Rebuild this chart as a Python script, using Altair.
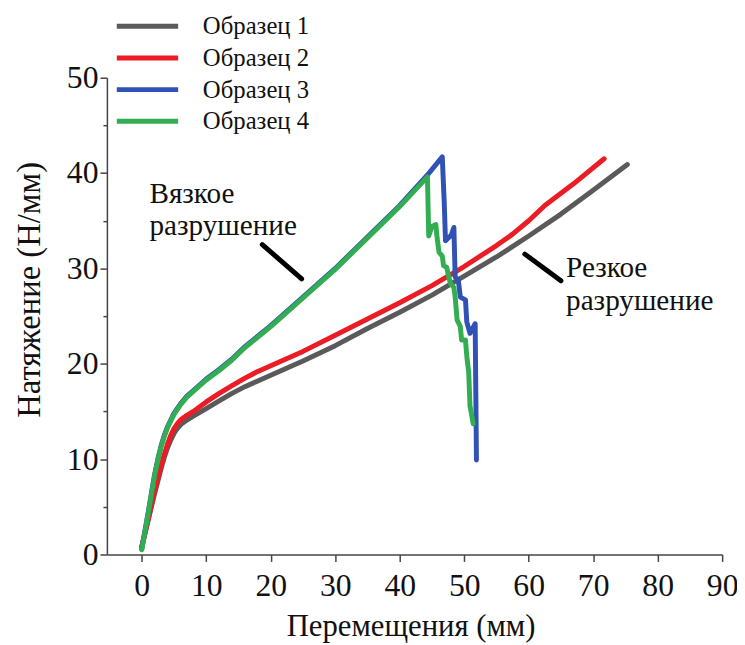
import altair as alt
import pandas as pd

# ---- data ----
s1_x = [0, 0.5, 1, 1.5, 2, 2.5, 3, 3.5, 4, 4.5, 5, 5.5, 6, 7, 8, 10, 12, 14, 16, 18, 20, 25, 30, 35, 40, 45, 50, 55, 60, 65, 70, 75.3]
s1_y = [0.8, 2.2, 3.6, 5.0, 6.4, 7.7, 9.0, 10.2, 11.2, 12.0, 12.7, 13.2, 13.6, 14.1, 14.5, 15.3, 16.1, 16.9, 17.6, 18.2, 18.8, 20.3, 21.9, 23.7, 25.4, 27.2, 29.2, 31.2, 33.4, 35.7, 38.2, 40.9]

s2_x = [0, 0.5, 1, 1.5, 2, 2.5, 3, 3.5, 4, 4.5, 5, 5.5, 6, 7, 8, 10, 12, 14, 16, 18, 20, 25, 30, 35, 40, 45, 50, 55, 57.5, 60, 62.5, 67, 71.7]
s2_y = [0.8, 2.2, 3.7, 5.2, 6.7, 8.0, 9.3, 10.5, 11.6, 12.5, 13.2, 13.7, 14.1, 14.6, 15.0, 16.0, 16.9, 17.7, 18.5, 19.2, 19.8, 21.3, 23.0, 24.7, 26.4, 28.2, 30.2, 32.4, 33.6, 35.0, 36.6, 38.9, 41.5]

s3_x = [0, 0.5, 1, 1.5, 2, 2.5, 3, 3.5, 4, 4.5, 5, 6, 7, 8, 10, 12, 14, 16, 18, 20, 25, 30, 35, 40, 44.3, 46.6,
        46.9, 47.1, 48.0, 48.4, 48.6, 49.1, 49.4, 50.2, 50.4, 50.9, 51.7, 51.9]
s3_y = [0.6, 2.5, 4.4, 6.4, 8.4, 10.0, 11.4, 12.5, 13.4, 14.1, 14.8, 15.8, 16.6, 17.2, 18.4, 19.4, 20.5, 21.8, 22.9, 24.0, 27.0, 30.0, 33.3, 36.6, 39.8, 41.7,
        37.0, 32.9, 33.5, 34.3, 29.1, 28.7, 27.0, 26.7, 24.4, 23.2, 24.2, 9.9]

s4_x = [0, 0.5, 1, 1.5, 2, 2.5, 3, 3.5, 4, 4.5, 5, 6, 7, 8, 10, 12, 14, 16, 18, 20, 25, 30, 35, 40, 44.3,
        44.5, 45.0, 45.6, 45.8, 46.1, 46.6, 46.8, 47.3, 47.6, 47.9, 48.4, 48.6, 48.9, 49.4, 49.6, 50.2, 50.4, 50.7, 50.9, 51.4]
s4_y = [0.5, 2.4, 4.3, 6.3, 8.3, 9.9, 11.3, 12.4, 13.3, 14.0, 14.7, 15.7, 16.5, 17.1, 18.3, 19.3, 20.4, 21.7, 22.8, 23.9, 26.9, 29.9, 33.2, 36.5, 39.6,
        33.4, 34.4, 34.6, 33.2, 31.7, 31.3, 30.3, 30.1, 29.1, 28.4, 28.0, 27.0, 24.6, 23.9, 22.5, 22.5, 20.8, 19.1, 15.6, 13.7]

series_names = ["Образец 1", "Образец 2", "Образец 3", "Образец 4"]
series_colors = ["#5a5a5a", "#ec1c24", "#2f52b4", "#33ad52"]

x_ticks = list(range(0, 95, 5))
y_ticks = list(range(0, 55, 5))

# annotation text (two-line labels) and leader lines (data coordinates)
ann_text = ["Вязкое\nразрушение", "Резкое\nразрушение"]
ann_tx = [1.2, 65.8]
ann_ty = [36.9, 29.1]
lead_x1 = [18.7, 59.4]
lead_y1 = [32.5, 31.5]
lead_x2 = [24.8, 65.0]
lead_y2 = [28.9, 28.7]

FONT = "Liberation Serif, Times New Roman, serif"

rows = []
for name, xs, ys in zip(series_names, [s1_x, s2_x, s3_x, s4_x], [s1_y, s2_y, s3_y, s4_y]):
    for i, (xv, yv) in enumerate(zip(xs, ys)):
        rows.append({"series": name, "x": xv, "y": yv, "i": i})
df = pd.DataFrame(rows)

color_scale = alt.Scale(domain=series_names, range=series_colors)
x_scale = alt.Scale(domain=[-5.4, 90], nice=False, zero=False)
y_scale = alt.Scale(domain=[0, 50], nice=False)

tick_cond = {"condition": {"test": "datum.value % 10 === 0", "value": 7}, "value": 4}

x_axis = alt.Axis(
    title="Перемещения (мм)", values=x_ticks, grid=False,
    labelExpr="datum.value % 10 === 0 ? datum.label : ''",
    tickSize=tick_cond, labelPadding=9, labelFlush=False, labelOverlap=False,
    labelFontSize=32,
    titleX=307, titleY=73, titleBaseline="middle", titleFontSize=31,
)
y_axis = alt.Axis(
    title="Натяжение (Н/мм)", values=y_ticks, grid=False,
    labelExpr="datum.value % 10 === 0 ? datum.label : ''",
    tickSize=tick_cond, labelPadding=2, labelFlush=False, labelOverlap=False,
    labelFontSize=32,
    titleX=-78, titleY=214, titleBaseline="middle", titleAngle=-90, titleFontSize=33,
)

lines = alt.Chart(df).mark_line(strokeWidth=5, strokeJoin="round", strokeCap="round").encode(
    x=alt.X("x:Q", scale=x_scale, axis=x_axis),
    y=alt.Y("y:Q", scale=y_scale, axis=y_axis),
    color=alt.Color("series:N", scale=color_scale, legend=None),
    detail="series:N",
    order="i:Q",
)

lead_df = pd.DataFrame({"x1": lead_x1, "y1": lead_y1, "x2": lead_x2, "y2": lead_y2})
leaders = alt.Chart(lead_df).mark_rule(color="black", strokeWidth=5, strokeCap="round").encode(
    x=alt.X("x1:Q", scale=x_scale), y=alt.Y("y1:Q", scale=y_scale),
    x2="x2:Q", y2="y2:Q",
)

ann_df = pd.DataFrame({"t": ann_text, "x": ann_tx, "y": ann_ty})
ann = alt.Chart(ann_df).mark_text(
    font=FONT, fontSize=29.5, align="left", baseline="alphabetic", color="#111",
    lineBreak="\n", lineHeight=33,
).encode(
    x=alt.X("x:Q", scale=x_scale), y=alt.Y("y:Q", scale=y_scale), text="t:N"
)

# manual legend (pixel positions relative to the plot area)
leg_df = pd.DataFrame({
    "series": series_names,
    "ly": [-52, -20, 12, 44],
    "lx1": [10, 10, 10, 10],
    "lx2": [72, 72, 72, 72],
    "tx": [97, 97, 97, 97],
})
leg_lines = alt.Chart(leg_df).mark_rule(strokeWidth=5).encode(
    x=alt.X("lx1:Q", scale=None), x2="lx2:Q",
    y=alt.Y("ly:Q", scale=None),
    color=alt.Color("series:N", scale=color_scale, legend=None),
)
leg_text = alt.Chart(leg_df).mark_text(
    font=FONT, fontSize=25, align="left", baseline="middle", color="#111"
).encode(
    x=alt.X("tx:Q", scale=None), y=alt.Y("ly:Q", scale=None), text="series:N"
)

chart = alt.layer(lines, leaders, ann, leg_lines, leg_text).properties(
    width=622, height=482,
    autosize=alt.AutoSizeParams(type="none"),
    padding={"left": 100, "top": 67, "right": 15, "bottom": 88},
).configure_view(stroke=None).configure_axis(
    domainColor="#444", domainWidth=1.5, tickColor="#444", tickWidth=1.5,
    labelFont=FONT, labelColor="#111",
    titleFont=FONT, titleColor="#111", titleFontWeight="normal",
)

chart.save("out.html", embed_options={"renderer": "svg", "actions": False})
